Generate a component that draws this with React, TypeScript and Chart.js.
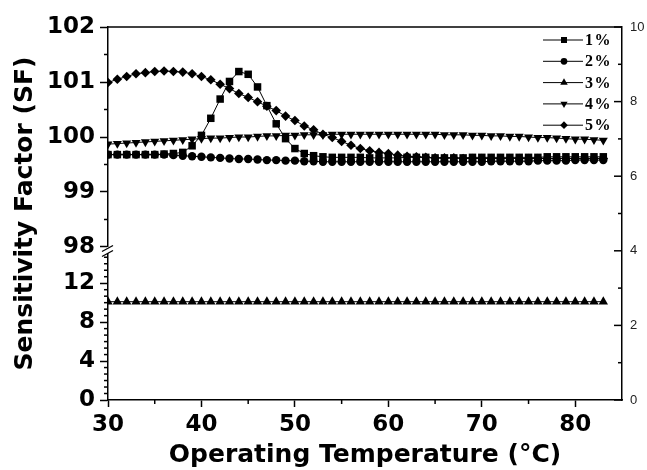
import React, { useEffect, useRef } from 'react';
import { Chart, registerables } from 'chart.js';

Chart.register(...registerables);

// ---------- data ----------
const TEMPS = [
  30, 31, 32, 33, 34, 35, 36, 37, 38, 39, 40, 41, 42, 43, 44, 45, 46, 47, 48, 49,
  50, 51, 52, 53, 54, 55, 56, 57, 58, 59, 60, 61, 62, 63, 64, 65, 66, 67, 68, 69,
  70, 71, 72, 73, 74, 75, 76, 77, 78, 79, 80, 81, 82, 83,
];

const SF_1 = [
  99.68, 99.68, 99.68, 99.68, 99.68, 99.68, 99.69, 99.70, 99.72, 99.84,
  100.03, 100.34, 100.69, 101.01, 101.19, 101.14, 100.91, 100.57, 100.24, 99.97,
  99.79, 99.70, 99.66, 99.64, 99.63, 99.63, 99.63, 99.63, 99.62, 99.62,
  99.62, 99.62, 99.63, 99.63, 99.63, 99.62, 99.62, 99.62, 99.62, 99.63,
  99.63, 99.63, 99.63, 99.63, 99.63, 99.63, 99.63, 99.64, 99.64, 99.64,
  99.64, 99.64, 99.64, 99.64,
];

const SF_2 = [
  99.68, 99.68, 99.68, 99.68, 99.68, 99.68, 99.68, 99.67, 99.66, 99.65,
  99.64, 99.63, 99.62, 99.61, 99.60, 99.60, 99.59, 99.58, 99.58, 99.57,
  99.57, 99.56, 99.56, 99.55, 99.55, 99.55, 99.55, 99.55, 99.55, 99.55,
  99.55, 99.55, 99.55, 99.55, 99.55, 99.55, 99.55, 99.55, 99.55, 99.55,
  99.55, 99.56, 99.56, 99.56, 99.56, 99.56, 99.57, 99.57, 99.57, 99.57,
  99.58, 99.58, 99.58, 99.58,
];

const SF_3 = [
  10.1, 10.1, 10.1, 10.1, 10.1, 10.1, 10.1, 10.1, 10.1, 10.1,
  10.1, 10.1, 10.1, 10.1, 10.1, 10.1, 10.1, 10.1, 10.1, 10.1,
  10.1, 10.1, 10.1, 10.1, 10.1, 10.1, 10.1, 10.1, 10.1, 10.1,
  10.1, 10.1, 10.1, 10.1, 10.1, 10.1, 10.1, 10.1, 10.1, 10.1,
  10.1, 10.1, 10.1, 10.1, 10.1, 10.1, 10.1, 10.1, 10.1, 10.1,
  10.1, 10.1, 10.1, 10.1,
];

const SF_4 = [
  99.87, 99.88, 99.89, 99.90, 99.91, 99.92, 99.93, 99.94, 99.95, 99.96,
  99.97, 99.98, 99.98, 99.99, 100.00, 100.00, 100.01, 100.02, 100.02, 100.03,
  100.03, 100.04, 100.04, 100.04, 100.05, 100.05, 100.05, 100.05, 100.05, 100.05,
  100.05, 100.05, 100.05, 100.05, 100.05, 100.05, 100.04, 100.04, 100.04, 100.03,
  100.03, 100.02, 100.02, 100.01, 100.01, 100.00, 99.99, 99.99, 99.98, 99.97,
  99.96, 99.96, 99.95, 99.94,
];

const SF_5 = [
  100.99, 101.05, 101.10, 101.15, 101.17, 101.19, 101.20, 101.19, 101.18, 101.15,
  101.10, 101.04, 100.96, 100.88, 100.79, 100.72, 100.64, 100.56, 100.48, 100.38,
  100.30, 100.20, 100.13, 100.05, 99.99, 99.92, 99.85, 99.79, 99.75, 99.72,
  99.70, 99.67, 99.65, 99.64, 99.63, 99.62, 99.62, 99.62, 99.61, 99.61,
  99.61, 99.61, 99.61, 99.61, 99.61, 99.61, 99.61, 99.61, 99.61, 99.61,
  99.61, 99.61, 99.61, 99.61,
];

const SERIES_LABELS = ['1%', '2%', '3%', '4%', '5%'];

const X_TICKS = [30, 40, 50, 60, 70, 80];
const X_MINOR = [35, 45, 55, 65, 75];
const TOP_TICKS = [98, 99, 100, 101, 102];
const TOP_MINOR = [98.5, 99.5, 100.5, 101.5];
const BOT_TICKS = [0, 4, 8, 12];
const BOT_MINOR = [
  0.667, 1.333, 2, 2.667, 3.333, 4.667, 5.333, 6, 6.667, 7.333,
  8.667, 9.333, 10, 10.667, 11.333, 12.667, 13.333, 14, 14.667,
];
const RIGHT_TICKS = [0, 2, 4, 6, 8, 10];
const RIGHT_MINOR = [1, 3, 5, 7, 9];

// ---------- styling ----------
const BOLD_SANS = "'DejaVu Sans'";
const tickFont = { family: BOLD_SANS, size: 23, weight: 'bold' as const };
const titleFont = { family: BOLD_SANS, size: 25, weight: 'bold' as const };

type Marker = { style: string; radius: number; rotation: number };
const MARKERS: Marker[] = [
  { style: 'rect', radius: 5.3, rotation: 0 },
  { style: 'circle', radius: 4.2, rotation: 0 },
  { style: 'triangle', radius: 5.4, rotation: 0 },
  { style: 'triangle', radius: 5.2, rotation: 180 },
  { style: 'rectRot', radius: 4.8, rotation: 0 },
];

function drawMarker(ctx: CanvasRenderingContext2D, m: Marker, x: number, y: number, r: number) {
  ctx.beginPath();
  if (m.style === 'rect') {
    const s = r * Math.SQRT1_2;
    ctx.rect(x - s, y - s, 2 * s, 2 * s);
  } else if (m.style === 'circle') {
    ctx.arc(x, y, r, 0, Math.PI * 2);
  } else if (m.style === 'triangle') {
    const dir = m.rotation === 180 ? -1 : 1;
    ctx.moveTo(x, y - dir * r);
    ctx.lineTo(x + r * 0.866, y + dir * r * 0.5);
    ctx.lineTo(x - r * 0.866, y + dir * r * 0.5);
    ctx.closePath();
  } else {
    ctx.moveTo(x, y - r);
    ctx.lineTo(x + r, y);
    ctx.lineTo(x, y + r);
    ctx.lineTo(x - r, y);
    ctx.closePath();
  }
  ctx.fill();
}

const decorPlugin = {
  id: 'decor',
  afterDraw(chart: any) {
    const ctx: CanvasRenderingContext2D = chart.ctx;
    const { left, right, top, bottom } = chart.chartArea;
    const s = chart.scales;
    const seg = (x1: number, y1: number, x2: number, y2: number) => {
      ctx.beginPath();
      ctx.moveTo(x1, y1);
      ctx.lineTo(x2, y2);
      ctx.stroke();
    };
    ctx.save();
    ctx.strokeStyle = '#000';
    ctx.fillStyle = '#000';
    ctx.lineWidth = 1.5;
    // top frame line
    seg(left, top, right, top);
    // minor ticks
    X_MINOR.forEach((v) => {
      const px = s.x.getPixelForValue(v);
      seg(px, bottom, px, bottom + 4);
    });
    TOP_MINOR.forEach((v) => {
      const py = s.yTop.getPixelForValue(v);
      seg(left - 4, py, left, py);
    });
    BOT_MINOR.forEach((v) => {
      const py = s.yBot.getPixelForValue(v);
      seg(left - 4, py, left, py);
    });
    // right axis inward ticks
    RIGHT_TICKS.forEach((v) => {
      const py = s.y2.getPixelForValue(v);
      seg(right - 8, py, right, py);
    });
    RIGHT_MINOR.forEach((v) => {
      const py = s.y2.getPixelForValue(v);
      seg(right - 4, py, right, py);
    });
    // axis break marks
    const yb = (s.yTop.bottom + s.yBot.top) / 2;
    ctx.lineWidth = 1.3;
    seg(left - 6, yb + 1, left + 5, yb - 5);
    seg(left - 6, yb + 6, left + 5, yb);
    // y title
    ctx.save();
    ctx.translate(25, (top + bottom) / 2);
    ctx.rotate(-Math.PI / 2);
    ctx.font = `bold 25px ${BOLD_SANS}`;
    ctx.textAlign = 'center';
    ctx.textBaseline = 'middle';
    ctx.fillText('Sensitivity Factor (SF)', 0, 0);
    ctx.restore();
    // legend
    ctx.lineWidth = 1;
    ctx.font = "bold 16px 'Liberation Serif'";
    ctx.textAlign = 'left';
    ctx.textBaseline = 'middle';
    try { (ctx as any).letterSpacing = '1.5px'; } catch (e) {}
    SERIES_LABELS.forEach((lab, i) => {
      const y = top + 13 + i * 21.3;
      const x0 = right - 79;
      seg(x0, y, x0 + 40, y);
      drawMarker(ctx, MARKERS[i], x0 + 21, y, MARKERS[i].radius * 0.8);
      ctx.fillText(lab, x0 + 42, y + 1);
    });
    ctx.restore();
  },
};

export default function App() {
  const ref = useRef<HTMLCanvasElement>(null);

  useEffect(() => {
    if (!ref.current) return;
    const series = [SF_1, SF_2, SF_3, SF_4, SF_5];
    const datasets = series.map((vals, i) => ({
      label: SERIES_LABELS[i],
      data: TEMPS.map((t, j) => ({ x: t, y: vals[j] })),
      yAxisID: i === 2 ? 'yBot' : 'yTop',
      xAxisID: 'x',
      borderColor: '#000',
      backgroundColor: '#000',
      borderWidth: 1,
      pointStyle: MARKERS[i].style,
      pointRotation: MARKERS[i].rotation,
      pointRadius: MARKERS[i].radius,
      pointBorderWidth: 0,
      pointBackgroundColor: '#000',
      tension: 0,
    }));

    const leftAxis = (min: number, max: number, weight: number, ticks: number[]) => ({
      type: 'linear' as const,
      position: 'left' as const,
      stack: 'left',
      stackWeight: weight,
      min,
      max,
      afterBuildTicks: (sc: any) => {
        sc.ticks = ticks.map((v) => ({ value: v }));
      },
      afterFit: (sc: any) => {
        sc.width = 108;
      },
      grid: {
        display: true,
        drawOnChartArea: false,
        drawTicks: true,
        tickLength: 8,
        tickColor: '#000',
        tickWidth: 1.5,
      },
      border: { display: true, color: '#000', width: 1.5 },
      ticks: { font: tickFont, color: '#000', padding: 5, autoSkip: false },
    });

    const chart = new Chart(ref.current, {
      type: 'line',
      data: { datasets },
      options: {
        animation: false,
        responsive: false,
        maintainAspectRatio: false,
        layout: { padding: { top: 27, left: 0, right: 0, bottom: 0 } },
        plugins: { legend: { display: false }, tooltip: { enabled: false } },
        scales: {
          x: {
            type: 'linear',
            position: 'bottom',
            min: 30,
            max: 85,
            afterBuildTicks: (sc: any) => {
              sc.ticks = X_TICKS.map((v) => ({ value: v }));
            },
            afterFit: (sc: any) => {
              sc.height = 70;
            },
            grid: {
              display: true,
              drawOnChartArea: false,
              drawTicks: true,
              tickLength: 7,
              tickColor: '#000',
              tickWidth: 1.5,
            },
            border: { display: true, color: '#000', width: 1.5 },
            ticks: { font: tickFont, color: '#000', padding: 4, maxRotation: 0, autoSkip: false },
            title: {
              display: true,
              text: 'Operating Temperature (°C)',
              font: titleFont,
              color: '#000',
              padding: { top: 0, bottom: 0 },
            },
          },
          // left stack: Chart.js places left boxes in reverse order, so bottom segment first
          yBot: leftAxis(0, 15, 146, BOT_TICKS),
          yGap: {
            type: 'linear',
            position: 'left',
            stack: 'left',
            stackWeight: 7,
            min: 0,
            max: 1,
            afterFit: (sc: any) => {
              sc.width = 108;
            },
            grid: { display: false, drawTicks: false },
            border: { display: false },
            ticks: { display: false },
          },
          yTop: leftAxis(98, 102, 220, TOP_TICKS),
          y2: {
            type: 'linear',
            position: 'right',
            min: 0,
            max: 10,
            afterBuildTicks: (sc: any) => {
              sc.ticks = RIGHT_TICKS.map((v) => ({ value: v }));
            },
            afterFit: (sc: any) => {
              sc.width = 25;
            },
            grid: { display: false, drawTicks: false },
            border: { display: true, color: '#000', width: 1.5 },
            ticks: {
              font: { family: "'Liberation Sans'", size: 13 },
              color: '#222',
              padding: 8,
              autoSkip: false,
            },
          },
        },
      } as any,
      plugins: [decorPlugin],
    });
    return () => chart.destroy();
  }, []);

  return (
    <div style={{ position: 'absolute', left: 0, top: 0, width: 647, height: 470, background: '#fff' }}>
      <canvas ref={ref} width={647} height={470} />
    </div>
  );
}
